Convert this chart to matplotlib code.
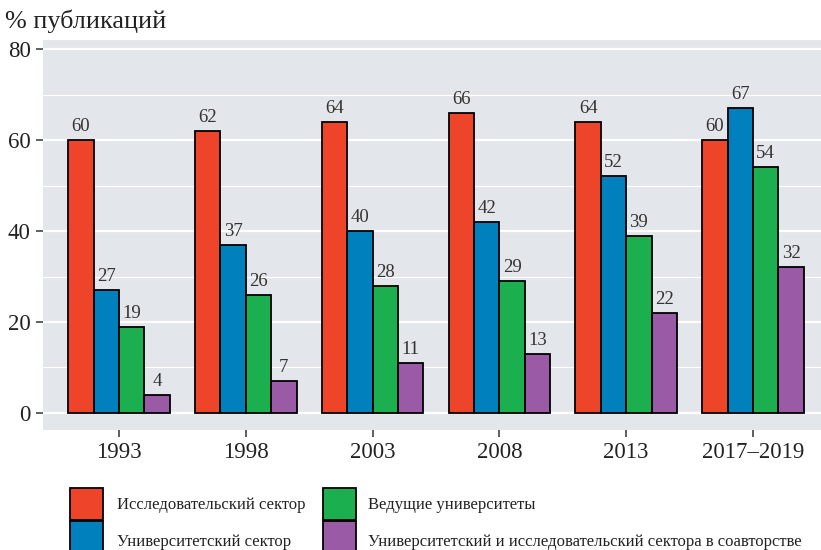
import matplotlib
matplotlib.use("Agg")
import matplotlib.pyplot as plt
from matplotlib.patches import Rectangle
import numpy as np

years = ["1993", "1998", "2003", "2008", "2013", "2017–2019"]
series_names = ["Исследовательский сектор", "Университетский сектор",
                "Ведущие университеты",
                "Университетский и исследовательский сектора в соавторстве"]
research = [60, 62, 64, 66, 64, 60]
university = [27, 37, 40, 42, 52, 67]
leading = [19, 26, 28, 29, 39, 54]
coauthored = [4, 7, 11, 13, 22, 32]
yticks = [0, 20, 40, 60, 80]

colors = ["#EE4429", "#0080BD", "#1CAF50", "#9A5AA6"]
series = [research, university, leading, coauthored]

plt.rcParams['font.family'] = ['Liberation Serif', 'DejaVu Serif']

W, H = 821, 550
fig = plt.figure(figsize=(W / 100, H / 100), dpi=100)
ax = fig.add_axes([43 / W, (H - 430) / H, (829 - 43) / W, 390 / H])
ax.set_facecolor("#E3E6EA")

x = np.arange(len(years))
bw = 0.2
for i, (vals, c) in enumerate(zip(series, colors)):
    pos = x + (i - 1.5) * bw
    ax.bar(pos, vals, width=bw, color=c, edgecolor="black", linewidth=1.3, zorder=3)
    for p, v in zip(pos, vals):
        ax.text(p, v + 1.1, str(v), ha="center", va="bottom", fontsize=13.5,
                color="#333333", zorder=4)

ax.set_ylim(-3.75, 82)
ax.set_xlim(-0.6, len(years) - 0.4)
ax.set_yticks(yticks)
ax.set_yticks([10, 30, 50, 70], minor=True)
ax.grid(which="major", axis="y", color="white", linewidth=1.6, zorder=0)
ax.grid(which="minor", axis="y", color="white", linewidth=0.8, zorder=0)
ax.set_axisbelow(True)
ax.set_xticks(x)
ax.set_xticklabels(years)
ax.tick_params(axis="both", which="major", labelsize=16.5, color="#333333",
               labelcolor="#222222", length=5, width=1.1, pad=4)
ax.tick_params(axis="y", which="minor", length=0)
for s in ax.spines.values():
    s.set_visible(False)

fig.text(5 / W, 1 - 21 / H, "% публикаций", fontsize=18.8, color="#222222",
         ha="left", va="center")

# legend
leg = [(70, 488, 0, 117, 505), (70, 521, 1, 117, 542),
       (323, 488, 2, 368, 505), (323, 521, 3, 368, 542)]
for bx, by, idx, tx, ty in leg:
    r = Rectangle((bx / W, 1 - (by + 32) / H), 33 / W, 32 / H, transform=fig.transFigure,
                  facecolor=colors[idx], edgecolor="black", linewidth=1.3)
    fig.add_artist(r)
    fig.text(tx / W, 1 - ty / H, series_names[idx], fontsize=12, color="#222222",
             ha="left", va="center")

fig.savefig("out.png", dpi=100)
